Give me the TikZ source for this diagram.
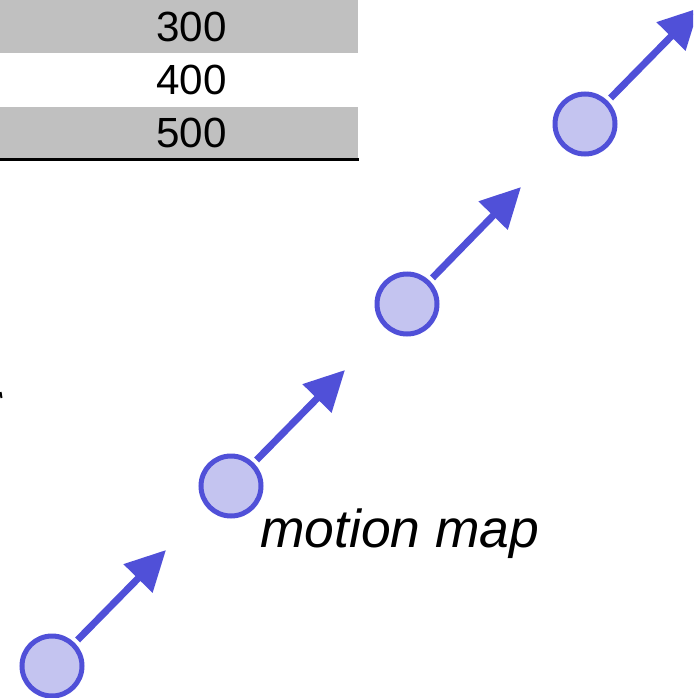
\documentclass[tikz,border=0pt]{standalone}
\usepackage{fontspec}
\setmainfont{Liberation Sans}
\usetikzlibrary{positioning, arrows.meta}

\definecolor{rowgray}{HTML}{C0C0C0}
\definecolor{ballfill}{HTML}{C4C4F0}
\definecolor{ballline}{HTML}{5050D8}

\begin{document}
\begin{tikzpicture}[x=0.2mm,y=-0.2mm,node distance=0mm,
    row/.style={minimum width=71.6mm,minimum height=10.5mm,inner sep=0pt,
      font=\fontsize{24}{24}\selectfont,execute at begin node=\hspace*{4.8mm}},
    ball/.style={circle,draw=ballline,fill=ballfill,line width=1mm,
      minimum size=12mm,inner sep=0pt},
    vel/.style={draw=ballline,line width=1.4mm,shorten <=0.8mm,
      -{Triangle[length=8mm,width=7.8mm]}}]
  \clip (0,0) rectangle (693,698);

  % data table
  \node[row,fill=rowgray,anchor=north west] (r3) at (0,0) {300};
  \node[row]               (r4) [below=of r3] {400};
  \node[row,fill=rowgray]  (r5) [below=of r4] {500};
  \draw[line width=0.6mm] (r5.south west) -- (r5.south east);
  \draw[line width=0.4mm] (0.5,392) -- (1.5,398);

  % motion map
  \node[ball] (c1) at (52,666) {};
  \node[ball] (c2) at (231,486) {};
  \node[ball] (c3) at (407,304) {};
  \node[ball] (c4) at (585,124) {};
  \coordinate (t1) at (166,550);
  \coordinate (t2) at (345,370);
  \coordinate (t3) at (521,187);
  \coordinate (t4) at (699,8);

  \foreach \i in {1,...,4}
    \draw[vel] (c\i) -- (t\i);

  \node[anchor=base west,inner sep=0pt,font=\fontsize{30.4}{30.4}\selectfont\itshape]
    (lbl) at (260,547) {motion map};
\end{tikzpicture}
\end{document}
